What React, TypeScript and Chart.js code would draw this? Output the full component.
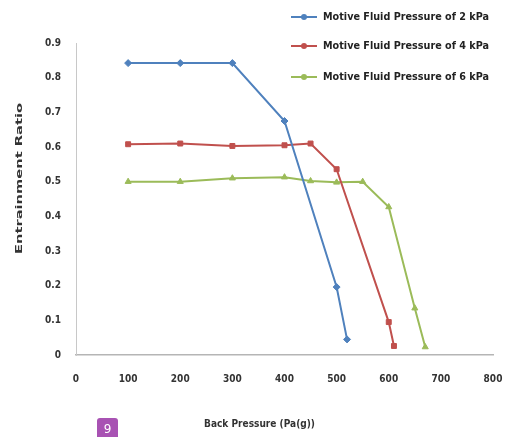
import { useEffect, useRef } from "react";
import { Chart, registerables } from "chart.js";
Chart.register(...registerables);

const seriesLabels = [
  "Motive Fluid Pressure of 2 kPa",
  "Motive Fluid Pressure of 4 kPa",
  "Motive Fluid Pressure of 6 kPa",
];
const backPressure2 = [100, 200, 300, 400, 500, 520];
const ratio2 = [0.842, 0.842, 0.842, 0.675, 0.196, 0.045];
const backPressure4 = [100, 200, 300, 400, 450, 500, 600, 610];
const ratio4 = [0.608, 0.61, 0.603, 0.605, 0.61, 0.536, 0.095, 0.026];
const backPressure6 = [100, 200, 300, 400, 450, 500, 550, 600, 650, 670];
const ratio6 = [0.5, 0.5, 0.51, 0.513, 0.502, 0.498, 0.5, 0.427, 0.135, 0.023];
const xTickValues = [0, 100, 200, 300, 400, 500, 600, 700, 800];
const yTickValues = [0, 0.1, 0.2, 0.3, 0.4, 0.5, 0.6, 0.7, 0.8, 0.9];
const xTitle = "Back Pressure (Pa(g))";
const yTitle = "Entrainment Ratio";
const badgeText = "9";

const colors = ["#4F81BD", "#C0504D", "#9BBB59"];
const markers = ["rectRot", "rect", "triangle"];
const FONT = "'Liberation Sans Narrow', 'DejaVu Sans Condensed', 'Arial Narrow', sans-serif";

function fitText(ctx: CanvasRenderingContext2D, text: string, x: number, y: number, w: number) {
  const m = ctx.measureText(text).width;
  ctx.save();
  ctx.translate(x, y);
  ctx.scale(w / m, 1);
  ctx.textAlign = "left";
  ctx.fillText(text, 0, 0);
  ctx.restore();
}

export default function App() {
  const ref = useRef<HTMLCanvasElement | null>(null);
  useEffect(() => {
    if (!ref.current) return;
    const toPts = (xs: number[], ys: number[]) => xs.map((x, i) => ({ x, y: ys[i] }));
    const sets = [
      toPts(backPressure2, ratio2),
      toPts(backPressure4, ratio4),
      toPts(backPressure6, ratio6),
    ];
    const overlay = {
      id: "overlay",
      afterDraw(chart: any) {
        const ctx = chart.ctx as CanvasRenderingContext2D;
        ctx.save();
        // legend
        const rows = [17, 46, 77];
        seriesLabels.forEach((lab, i) => {
          const y = rows[i];
          ctx.strokeStyle = colors[i];
          ctx.lineWidth = 2;
          ctx.beginPath();
          ctx.moveTo(291, y);
          ctx.lineTo(317, y);
          ctx.stroke();
          ctx.fillStyle = colors[i];
          ctx.beginPath();
          ctx.arc(304, y, 3, 0, Math.PI * 2);
          ctx.fill();
          ctx.fillStyle = "#222";
          ctx.font = `bold 11px ${FONT}`;
          ctx.textBaseline = "middle";
          fitText(ctx, lab, 323, y, 166);
        });
        // x title
        ctx.font = `bold 10px ${FONT}`;
        ctx.fillStyle = "#333";
        ctx.textBaseline = "middle";
        fitText(ctx, xTitle, 204, 424, 111);
        // y title (rotated)
        ctx.save();
        ctx.translate(20, 254);
        ctx.rotate(-Math.PI / 2);
        ctx.font = `bold 8px ${FONT}`;
        fitText(ctx, yTitle, 0, 0, 151);
        ctx.restore();
        // badge
        ctx.fillStyle = "#A852B3";
        ctx.beginPath();
        (ctx as any).roundRect(97, 418, 21, 22, 3);
        ctx.fill();
        ctx.fillStyle = "#fff";
        ctx.font = `12px 'DejaVu Sans', sans-serif`;
        ctx.textAlign = "center";
        ctx.fillText(badgeText, 107.5, 430);
        ctx.restore();
      },
    };
    const chart = new Chart(ref.current, {
      type: "line",
      data: {
        datasets: sets.map((d, i) => ({
          label: seriesLabels[i],
          data: d,
          borderColor: colors[i],
          backgroundColor: colors[i],
          borderWidth: 2,
          pointStyle: markers[i] as any,
          pointRadius: 3.5,
          pointBorderWidth: 1,
          tension: 0,
        })),
      },
      options: {
        animation: false,
        responsive: false,
        maintainAspectRatio: false,
        layout: { padding: { top: 43, right: 13, left: 0, bottom: 0 } },
        plugins: { legend: { display: false }, tooltip: { enabled: false } },
        scales: {
          x: {
            type: "linear",
            min: 0,
            max: 800,
            afterFit: (s: any) => { s.height = 82; s.paddingLeft = 0; s.paddingRight = 0; },
            afterBuildTicks: (s: any) => { s.ticks = xTickValues.map((v) => ({ value: v })); },
            grid: { display: false, drawTicks: false, tickLength: 0 },
            border: { display: true, color: "#b5b5b5", width: 1.5 },
            ticks: {
              padding: 18,
              color: "#333",
              font: { family: FONT, size: 10, weight: "bold" },
              callback: (v: any) => String(v),
            },
          },
          y: {
            type: "linear",
            min: 0,
            max: 0.9,
            afterFit: (s: any) => { s.width = 76; s.paddingTop = 0; s.paddingBottom = 0; },
            afterBuildTicks: (s: any) => { s.ticks = yTickValues.map((v) => ({ value: v })); },
            grid: { display: false, drawTicks: false, tickLength: 0 },
            border: { display: true, color: "#c8c8c8", width: 1 },
            ticks: {
              padding: 15,
              color: "#333",
              font: { family: FONT, size: 10, weight: "bold" },
              callback: (v: any) => (Number(v) === 0 ? "0" : Number(v).toFixed(1)),
            },
          },
        },
      },
      plugins: [overlay],
    } as any);
    return () => chart.destroy();
  }, []);
  return (
    <div style={{ position: "fixed", left: 0, top: 0, width: 506, height: 437, background: "#fff" }}>
      <canvas ref={ref} width={506} height={437} style={{ width: 506, height: 437 }} />
    </div>
  );
}
